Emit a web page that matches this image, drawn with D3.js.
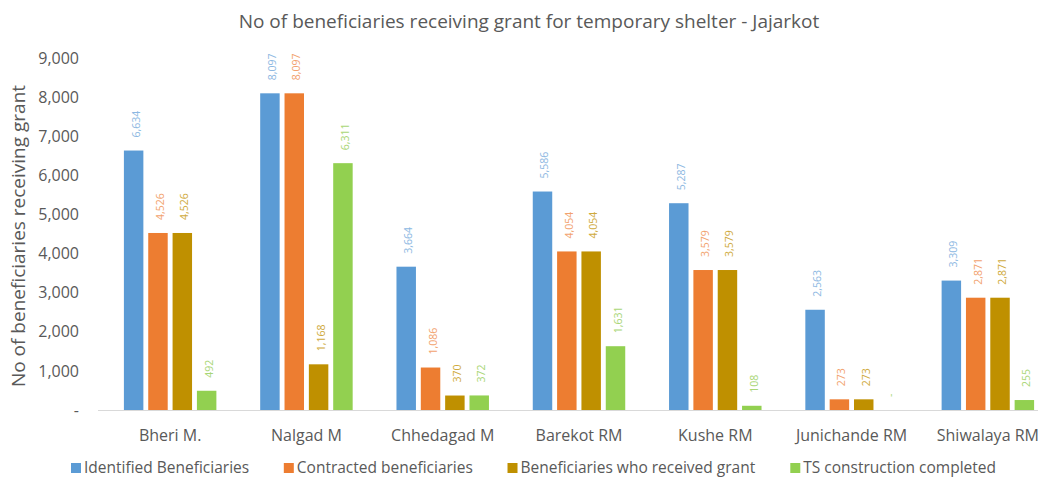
<!DOCTYPE html>
<html lang="en">
<head>
<meta charset="UTF-8">
<title>Temporary shelter grant - Jajarkot</title>
<style>
  body { margin: 0; background: #fff; }
  text { font-family: "Open Sans", "Liberation Sans", sans-serif; }
</style>
</head>
<body>
<script src="https://d3js.org/d3.v7.min.js"></script>
<div id="chart"></div>
<script>
// data
var municipalities = ["Bheri M.", "Nalgad M", "Chhedagad M", "Barekot RM", "Kushe RM", "Junichande RM", "Shiwalaya RM"];
var seriesNames = ["Identified Beneficiaries", "Contracted beneficiaries", "Beneficiaries who received grant", "TS construction completed"];
var identified = [6634, 8097, 3664, 5586, 5287, 2563, 3309];
var contracted = [4526, 8097, 1086, 4054, 3579, 273, 2871];
var receivedGrant = [4526, 1168, 370, 4054, 3579, 273, 2871];
var tsCompleted = [492, 6311, 372, 1631, 108, 0, 255];
var yTicks = [0, 1000, 2000, 3000, 4000, 5000, 6000, 7000, 8000, 9000];

var barColors = ["#5B9BD5", "#ED7D31", "#BF9000", "#92D050"];
var labelColors = ["#8DB8E2", "#F2A26E", "#CFAA3C", "#A9D676"];

var W = 1038, H = 479;
var margin = {top: 58, bottom: 69, left: 102};
// the plot area runs a little past the right edge, as in the original
var plotRight = 1056;

var svg = d3.select("#chart").append("svg")
  .attr("width", W).attr("height", H);

var allSeries = [identified, contracted, receivedGrant, tsCompleted];
var rows = municipalities.map(function(m, i) {
  return {name: m, values: allSeries.map(function(s, k) { return {k: k, v: s[i]}; })};
});

var x0 = d3.scaleBand().domain(municipalities)
  .range([margin.left, plotRight]).paddingInner(0.25).paddingOuter(0.125);
var x1 = d3.scaleBand().domain(d3.range(4)).range([0, x0.bandwidth()]).padding(0.2);
var y = d3.scaleLinear().domain([0, 9000]).range([H - margin.bottom, margin.top]);

var fmt = d3.format(",");

// title
svg.append("text")
  .attr("x", 529).attr("y", 28)
  .attr("text-anchor", "middle")
  .attr("fill", "#595959")
  .style("font-size", "19px")
  .text("No of beneficiaries receiving grant for temporary shelter - Jajarkot");

// y axis (no line)
var yAxis = svg.append("g")
  .attr("transform", "translate(" + (margin.left - 20) + ",0)")
  .call(d3.axisLeft(y).tickValues(yTicks).tickSize(0)
    .tickFormat(function(d) { return d === 0 ? "-" : fmt(d); }));
yAxis.select(".domain").remove();
yAxis.selectAll("text")
  .attr("fill", "#595959")
  .style("font-size", "16px")
  .style("font-family", "'Open Sans', sans-serif");

svg.append("text")
  .attr("transform", "translate(25," + ((margin.top + H - margin.bottom) / 2 + 2) + ") rotate(-90)")
  .attr("text-anchor", "middle")
  .attr("fill", "#595959")
  .style("font-size", "19px")
  .text("No of beneficiaries receiving grant");

// x axis
var xAxis = svg.append("g")
  .attr("transform", "translate(0," + y(0) + ")")
  .call(d3.axisBottom(x0).tickSize(0).tickPadding(20));
xAxis.select(".domain").attr("stroke", "#D9D9D9").attr("d", "M" + (margin.left - 4) + ",0.5H" + W);
xAxis.selectAll("text")
  .attr("fill", "#595959")
  .style("font-size", "16px")
  .style("font-family", "'Open Sans', sans-serif");

// bars
var groups = svg.append("g").selectAll("g")
  .data(rows).enter().append("g")
  .attr("transform", function(d) { return "translate(" + x0(d.name) + ",0)"; });

groups.selectAll("rect")
  .data(function(d) { return d.values; })
  .enter().append("rect")
  .attr("x", function(d) { return x1(d.k); })
  .attr("y", function(d) { return y(d.v); })
  .attr("width", x1.bandwidth())
  .attr("height", function(d) { return y(0) - y(d.v); })
  .attr("fill", function(d) { return barColors[d.k]; });

// rotated value labels
groups.selectAll("text.val")
  .data(function(d) { return d.values; })
  .enter().append("text")
  .attr("class", "val")
  .attr("transform", function(d) {
    return "translate(" + (x1(d.k) + x1.bandwidth() / 2 + 6) + "," + (y(d.v) - 13) + ") rotate(-90)";
  })
  .attr("fill", function(d) { return labelColors[d.k]; })
  .style("font-size", "10.5px")
  .text(function(d) { return d.v === 0 ? "-" : fmt(d.v); });

// legend: items spread evenly between x=71 and x=996
var legend = svg.append("g").selectAll("g")
  .data(seriesNames).enter().append("g");
legend.append("rect")
  .attr("x", 0).attr("y", -9).attr("width", 10).attr("height", 10)
  .attr("fill", function(d, i) { return barColors[i]; });
legend.append("text")
  .attr("x", 13).attr("y", 1)
  .attr("dominant-baseline", "middle")
  .attr("dy", "-0.28em")
  .attr("fill", "#595959")
  .style("font-size", "15.5px")
  .text(function(d) { return d; });

var itemW = [];
legend.each(function() { itemW.push(this.getBBox().width); });
var legStart = 71, legEnd = 996;
var gap = (legEnd - legStart - d3.sum(itemW)) / (itemW.length - 1);
var pos = legStart;
legend.attr("transform", function(d, i) {
  var t = "translate(" + pos + ",472)";
  pos += itemW[i] + gap;
  return t;
});
</script>
</body>
</html>
